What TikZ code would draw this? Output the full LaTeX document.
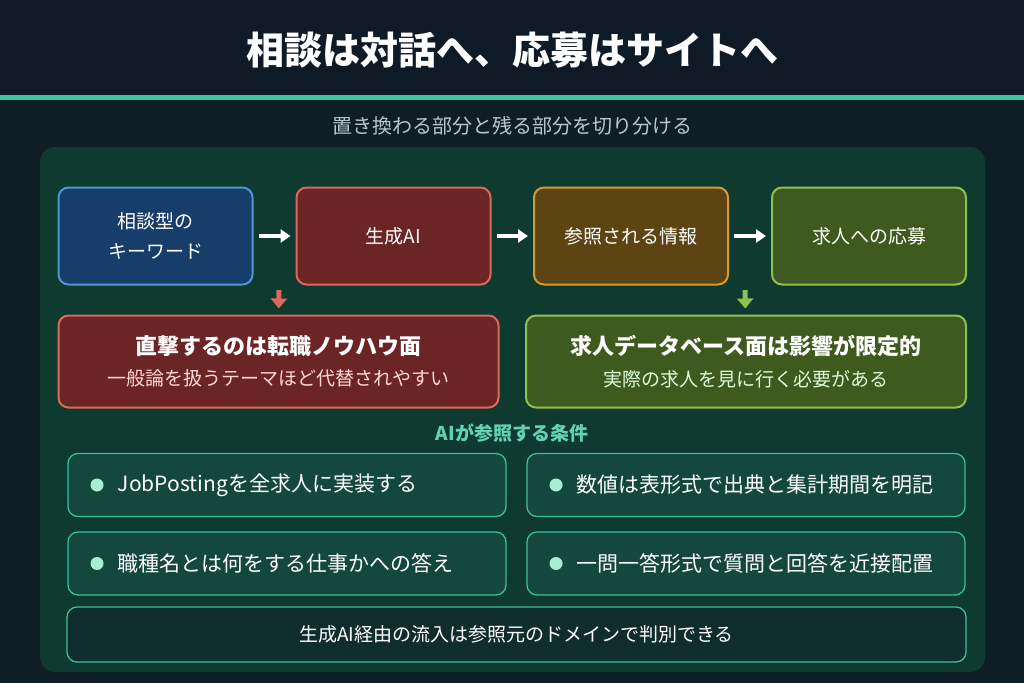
\documentclass[tikz,border=0pt]{standalone}
\usepackage{fontspec}
\setmainfont{Noto Sans CJK JP}
\usetikzlibrary{arrows.meta,positioning}
\definecolor{hdrbg}{HTML}{0E1A25}
\definecolor{mainbg}{HTML}{0F1E24}
\definecolor{panelbg}{HTML}{0F3A30}
\definecolor{accent}{HTML}{3CC6A0}
\definecolor{blueF}{HTML}{173D6A}\definecolor{blueD}{HTML}{4F95D0}
\definecolor{redF}{HTML}{6B2524}\definecolor{redD}{HTML}{D9695A}
\definecolor{amberF}{HTML}{5E4413}\definecolor{amberD}{HTML}{D79A30}
\definecolor{greenF}{HTML}{3E5A1E}\definecolor{greenD}{HTML}{8CC152}
\definecolor{condF}{HTML}{14483C}\definecolor{condD}{HTML}{3CBF95}
\definecolor{dotc}{HTML}{A8ECD2}
\definecolor{subtxt}{HTML}{B8C7CC}
\begin{document}
\begin{tikzpicture}[x=1pt,y=-1pt,
    flow node/.style={draw,line width=2pt,rounded corners=10pt,minimum width=194pt,minimum height=97pt,text=white,font=\fontsize{19}{30}\selectfont,align=center},
    big node/.style={draw,line width=2pt,rounded corners=10pt,minimum width=440pt,minimum height=92pt,text=white,align=center},
    cond node/.style={draw=condD,fill=condF,line width=1.3pt,rounded corners=10pt,minimum width=438pt,minimum height=63pt},
    cond text/.style={text=white,font=\fontsize{21}{25}\selectfont,inner sep=0pt},
    dot/.style={circle,fill=dotc,inner sep=0pt,minimum size=13pt},
    flow arrow/.style={-{Triangle[width=13pt,length=10pt]},line width=4pt,white,shorten <=5pt,shorten >=5pt},
    down arrow/.style={-{Triangle[width=16pt,length=10pt]},line width=5pt,shorten >=6pt}]
  \useasboundingbox (0,0) rectangle (1024,683);
  \fill[mainbg] (0,0) rectangle (1024,683);
  \fill[hdrbg] (0,0) rectangle (1024,96);
  \fill[accent] (0,95) rectangle (1024,100);
  \node[text=white,font=\bfseries\fontsize{38}{44}\selectfont] (title) at (512,50) {相談は対話へ、応募はサイトへ};
  \node[text=subtxt,font=\fontsize{20}{24}\selectfont] (subtitle) at (512,126) {置き換わる部分と残る部分を切り分ける};
  \fill[panelbg,rounded corners=15pt] (40,147) rectangle (985,672);
  % flow
  \node[flow node,draw=blueD,fill=blueF] (kw) at (155.5,236) {相談型の\\キーワード};
  \node[flow node,draw=redD,fill=redF] (ai) at (393.5,236) {生成AI};
  \node[flow node,draw=amberD,fill=amberF] (ref) at (631,236) {参照される情報};
  \node[flow node,draw=greenD,fill=greenF] (apply) at (869,236) {求人への応募};
  \draw[flow arrow] (kw) -- (ai);
  \draw[flow arrow] (ai) -- (ref);
  \draw[flow arrow] (ref) -- (apply);
  % impact
  \node[big node,draw=redD,fill=redF] (hit) at (278.5,361.5) {{\bfseries\fontsize{22}{30}\selectfont 直撃するのは転職ノウハウ面}\\[12pt]{\color{white!85!red}\fontsize{19}{24}\selectfont 一般論を扱うテーマほど代替されやすい}};
  \node[big node,draw=greenD,fill=greenF] (db) at (746,361.5) {{\bfseries\fontsize{22}{30}\selectfont 求人データベース面は影響が限定的}\\[12pt]{\color{white!85!green}\fontsize{19}{24}\selectfont 実際の求人を見に行く必要がある}};
  \coordinate (hitin) at (279,290);
  \coordinate (dbin) at (745,290);
  \draw[down arrow,redD] (hitin) -- (hit);
  \draw[down arrow,greenD] (dbin) -- (db);
  % conditions
  \node[text=accent!80!white,font=\bfseries\fontsize{19}{22}\selectfont] (condtitle) at (512,433) {AIが参照する条件};
  \node[cond node] (c1) at (287,485) {};
  \node[cond node] (c2) at (746,485) {};
  \node[cond node] (c3) at (287,563.5) {};
  \node[cond node] (c4) at (746,563.5) {};
  \foreach \c/\t in {c1/JobPostingを全求人に実装する,c2/数値は表形式で出典と集計期間を明記,c3/職種名とは何をする仕事かへの答え,c4/一問一答形式で質問と回答を近接配置}{
    \node[dot,right=23pt of \c.west] (\c dot) {};
    \node[cond text,right=14pt of \c dot] (\c txt) {\t};
  }
  \node[draw=condD,fill=hdrbg!40!panelbg,line width=1.3pt,rounded corners=10pt,minimum width=899pt,minimum height=55pt,text=white,font=\fontsize{19}{24}\selectfont] (src) at (516.5,634.5) {生成AI経由の流入は参照元のドメインで判別できる};
\end{tikzpicture}
\end{document}
